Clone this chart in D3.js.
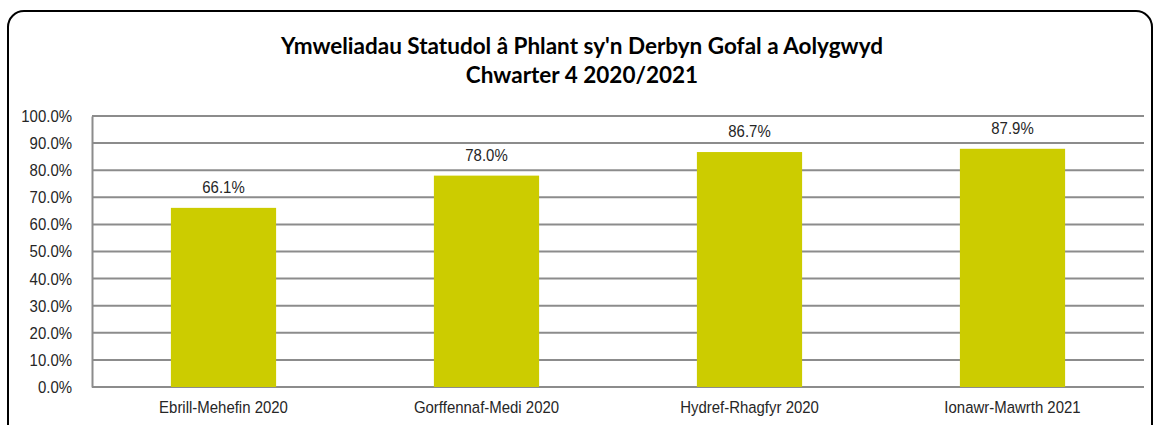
<!DOCTYPE html>
<html>
<head>
<meta charset="utf-8">
<script src="https://cdn.jsdelivr.net/npm/d3@7"></script>
<style>
  body { margin: 0; background: #fff; }
  svg { display: block; }
</style>
</head>
<body>
<svg id="chart" width="1155" height="425"></svg>
<script>
var categories = ["Ebrill-Mehefin 2020", "Gorffennaf-Medi 2020", "Hydref-Rhagfyr 2020", "Ionawr-Mawrth 2021"];
var values = [66.1, 78.0, 86.7, 87.9];
var yTicks = [0, 10, 20, 30, 40, 50, 60, 70, 80, 90, 100];
var titleLines = ["Ymweliadau Statudol \u00e2 Phlant sy'n Derbyn Gofal a Aolygwyd", "Chwarter 4 2020/2021"];

var WID = 1155, HGT = 425;
var margin = {top: 116, right: 11, bottom: 38, left: 92};
var width = WID - margin.left - margin.right;
var height = HGT - margin.top - margin.bottom;
var SQ = 0.88; // horizontal squeeze to mimic a narrow font

// squeeze text horizontally around its own x position
function squeeze(sel) {
  sel.each(function () {
    var t = d3.select(this);
    var xx = +t.attr("x") || 0;
    t.attr("transform", "translate(" + (xx * (1 - SQ)) + ",0) scale(" + SQ + ",1)");
  });
}

function labelStyle(sel) {
  sel.style("font-family", "'Liberation Sans', Arial, sans-serif")
    .style("font-size", "17px")
    .attr("fill", "#262626");
}

var svg = d3.select("#chart");

// outer frame with rounded corners
svg.append("rect")
  .attr("x", 8).attr("y", 11)
  .attr("width", 1144).attr("height", 440)
  .attr("rx", 16).attr("ry", 16)
  .attr("fill", "none")
  .attr("stroke", "#000")
  .attr("stroke-width", 2);

svg.append("text")
  .attr("x", 582).attr("y", 54)
  .attr("text-anchor", "middle")
  .style("font-family", "Lato, 'Open Sans', sans-serif")
  .style("font-weight", "bold")
  .style("font-size", "22.5px")
  .attr("fill", "#000")
  .selectAll("tspan")
  .data(titleLines)
  .enter().append("tspan")
    .attr("x", 582)
    .attr("dy", function (d, i) { return i ? 29 : 0; })
    .text(function (d) { return d; });

var g = svg.append("g")
  .attr("transform", "translate(" + margin.left + "," + margin.top + ")");

var x = d3.scaleBand().domain(categories).range([0, width]).paddingInner(0.6).paddingOuter(0.3);
var y = d3.scaleLinear().domain([0, 100]).range([height, 0]);

// gridlines
g.append("g")
  .selectAll("line")
  .data(yTicks)
  .enter().append("line")
    .attr("x1", 0).attr("x2", width)
    .attr("y1", function (d) { return y(d); })
    .attr("y2", function (d) { return y(d); })
    .attr("stroke", "#8c8c8c")
    .attr("stroke-width", 2);

// y axis
var yAxis = g.append("g")
  .call(d3.axisLeft(y).tickValues(yTicks).tickSize(0).tickPadding(20)
    .tickFormat(function (d) { return d.toFixed(1) + "%"; }));
yAxis.select(".domain").attr("stroke", "#8c8c8c").attr("stroke-width", 2);
yAxis.selectAll("text").call(labelStyle).call(squeeze);

// x axis
var xAxis = g.append("g")
  .attr("transform", "translate(0," + height + ")")
  .call(d3.axisBottom(x).tickSize(0).tickPadding(14));
xAxis.select(".domain").remove();
xAxis.selectAll("text").call(labelStyle).call(squeeze);

var data = categories.map(function (c, i) { return [c, values[i]]; });

g.selectAll(".bar")
  .data(data)
  .enter().append("rect")
    .attr("class", "bar")
    .attr("fill", "#cccc00")
    .attr("x", function (d) { return x(d[0]); })
    .attr("y", function (d) { return y(d[1]); })
    .attr("width", x.bandwidth())
    .attr("height", function (d) { return height - y(d[1]); });

g.selectAll(".lbl")
  .data(data)
  .enter().append("text")
    .attr("class", "lbl")
    .attr("x", function (d) { return x(d[0]) + x.bandwidth() / 2; })
    .attr("y", function (d) { return y(d[1]) - 15; })
    .attr("text-anchor", "middle")
    .call(labelStyle)
    .text(function (d) { return d[1].toFixed(1) + "%"; })
    .call(squeeze);
</script>
</body>
</html>
